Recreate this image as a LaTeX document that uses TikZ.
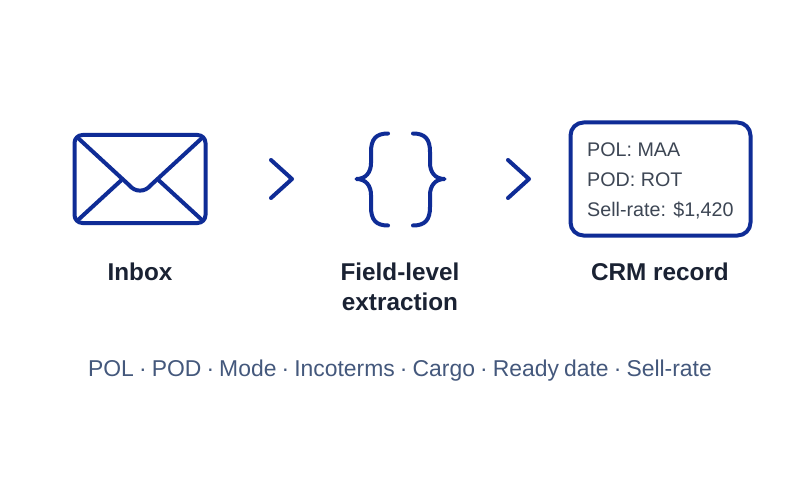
\documentclass[tikz,border=0pt]{standalone}
\usepackage{fontspec}
\setmainfont{Liberation Sans}
\definecolor{iconblue}{HTML}{0F2C96}
\definecolor{labelink}{HTML}{1A2233}
\definecolor{boxink}{HTML}{3D4654}
\definecolor{footink}{HTML}{44587C}
\newcommand{\tightwords}{\spaceskip=5.1pt\relax}
\tikzset{
  icon/.style={draw=iconblue,line width=4pt,line cap=round,line join=round},
  label/.style={text=labelink,font=\fontsize{24.3}{30}\selectfont\bfseries,align=center,inner sep=0pt,anchor=base},
  rec/.style={text=boxink,font=\fontsize{19.7}{22}\selectfont,inner sep=0pt,anchor=base west},
  foot/.style={text=footink,font=\fontsize{22.9}{26}\selectfont,inner sep=0pt,anchor=base}
}
\begin{document}
\begin{tikzpicture}[x=1pt,y=-1pt]
\useasboundingbox (0,0) rectangle (800,500);
\fill[white] (0,0) rectangle (800,500);
% envelope
\draw[icon,rounded corners=8pt] (74.5,135) rectangle (205.5,223);
\draw[icon] (78,138) -- (129,185) .. controls (135,192.5) and (145,192.5) .. (151,185) -- (202,138);
\draw[icon] (78,220) -- (121,180.5);
\draw[icon] (159,180.5) -- (202,220);
% chevrons
\draw[icon] (271,160) -- (292,179) -- (271,198);
\draw[icon] (508,160) -- (529,179) -- (508,198);
% braces
\draw[icon] (388,133.5) .. controls (376,133.5) and (371,139) .. (371,152) -- (371,163)
  .. controls (371,172) and (366,179) .. (356.5,179)
  .. controls (366,179) and (371,186) .. (371,195) -- (371,207)
  .. controls (371,220) and (376,225.5) .. (388,225.5);
\draw[icon] (413,133.5) .. controls (425,133.5) and (430,139) .. (430,152) -- (430,163)
  .. controls (430,172) and (435,179) .. (444.5,179)
  .. controls (435,179) and (430,186) .. (430,195) -- (430,207)
  .. controls (430,220) and (425,225.5) .. (413,225.5);
% record
\draw[icon,rounded corners=13pt] (570.5,122.5) rectangle (750.5,235.5);
\node[rec] (pol) at (587,156) {POL: MAA};
\node[rec] (pod) at (587,186) {POD: ROT};
\node[rec] (sell) at (587,216) {Sell-rate: \$1,420};
% labels
\node[label] (inbox) at (140,280) {Inbox};
\node[label] (field) at (400,310) {Field-level\\extraction};
\node[label] (crm) at (660,280) {CRM record};
\node[foot] (fields) at (400,376) {\tightwords POL · POD · Mode · Incoterms · Cargo · Ready date · Sell-rate};
\end{tikzpicture}
\end{document}
